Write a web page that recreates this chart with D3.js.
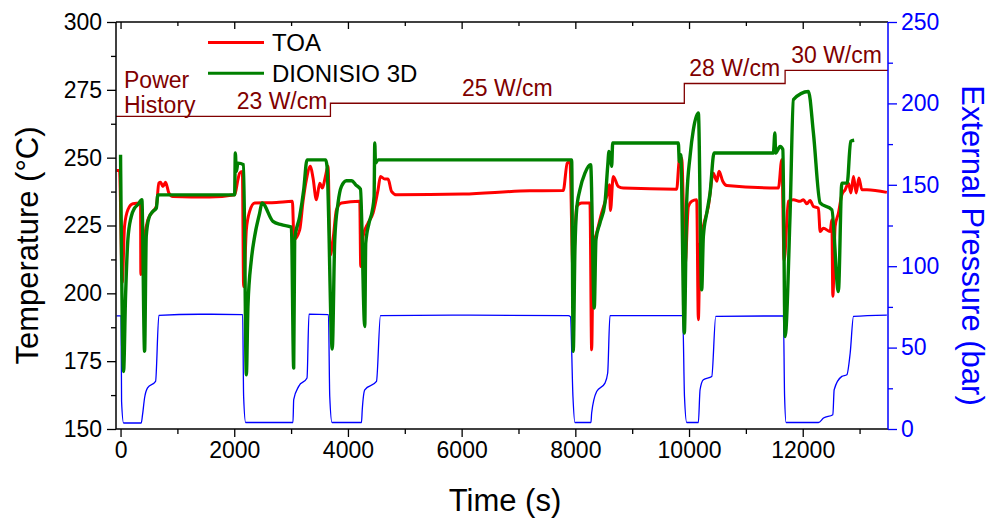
<!DOCTYPE html>
<html>
<head>
<meta charset="utf-8">
<script src="https://cdn.jsdelivr.net/npm/d3@7"></script>
<style>
  html, body { margin: 0; padding: 0; background: #fff; }
  svg { display: block; font-family: "Liberation Sans", Arial, sans-serif; }
</style>
</head>
<body>
<svg id="chart" width="989" height="521"></svg>
<script>
// ---------------- DATA ----------------
const toaTime = [-70,-18,30,70,129,217,352,357,423,481,569,629,674,704,745,792,850,921,1567,2007,2065,2095,2143,2165,2213,2271,2359,2741,3023,3051,3151,3210,3269,3340,3386,3445,3504,3551,3604,3650,3688,3738,3798,3886,4208,4225,4266,4354,4442,4530,4572,4648,4706,4766,4854,6026,7201,7787,7857,7905,7958,8023,8111,8257,8287,8315,8375,8463,8551,8600,8618,8667,8755,8843,9783,9829,9871,9930,9988,10047,10135,10164,10194,10252,10340,10428,10488,10528,10593,10664,11572,11632,11673,11748,11836,11954,12012,12072,12130,12188,12276,12306,12364,12482,12512,12530,12570,12628,12688,12746,12805,12847,12893,12940,12988,13040,13129,13480];
const toaTemp = [245.3,245.3,204,224.7,230.8,233,233.3,206.9,221,227.1,230.2,232,240.6,240.9,239.4,240.9,237,235.7,235.5,236.3,241.9,244.3,244.9,202.5,223.4,230.2,233.3,233.5,233.9,219.8,223.4,233.9,241.9,246.8,242.5,234.5,240.6,238.8,243.1,246.8,214,219.8,230.8,233.3,233.9,209.9,221,225.9,229.6,238.2,243.1,242.1,242.1,237.6,236.3,236.6,237.8,237.9,248,248.6,208.6,232,233.3,233.3,179.2,217.3,222.2,229.6,235.7,240,230.5,243.1,239.4,238.8,238.4,249.2,249.9,210,232,233.9,234.5,190.3,217.3,224.7,232,244.3,241.3,245,241.3,239.7,238.8,249.2,212,233.9,234.5,233.9,234.5,233,234.2,232,231.4,222.8,224,222.8,227.1,198.9,224.7,229.6,236.3,238.2,240.6,237,243.1,237,242.5,238.2,238.2,237.2];

const dioTime = [0,53,88,129,188,246,305,375,423,452,498,569,629,657,2007,2019,2037,2065,2165,2213,2241,2301,2359,2447,2488,2681,2829,3005,3046,3063,3151,3222,3280,3609,3632,3724,3768,3826,3886,3974,4062,4150,4220,4296,4313,4371,4431,4460,4472,4484,4530,7935,7963,7993,8023,8081,8169,8269,8333,8363,8433,8521,8569,8592,8621,8639,8657,9812,9829,9854,9917,9960,10018,10076,10164,10223,10252,10312,10370,10440,11484,11510,11523,11602,11650,11690,11778,11836,12100,12188,12306,12512,12627,12688,12782,12843,12905];
const dioTemp = [251.1,171.2,198.9,219.8,228.3,231.4,232.7,234.5,178.6,221,227.7,230.2,231.4,236.3,236.3,251.7,244.9,248,247.4,170,195.2,212.4,221,229.6,233.3,226.5,225.3,224.4,172.5,219.8,228.3,238.2,249.2,249.2,246.8,179.5,219.8,233.3,239.4,241.5,241.5,239.7,238.4,187.8,218.5,225.9,230.8,235.7,255.4,248,249.2,249.2,178.6,216.1,230.8,238.2,244.3,247.4,194.6,219.8,225.9,233.3,246.8,252.3,249.9,246.8,255.4,255.4,248.6,251.1,185.4,234.5,250.5,260.3,266.5,201.3,221,229.6,237,251.7,251.7,259.1,251.7,254.1,253,184.1,229.6,271.4,274.4,259.1,233.3,230.8,200.7,240.6,240.6,256,256.4];

const presTime = [-70,9,18,53,364,387,423,475,616,674,1391,2148,2165,2201,3033,3046,3134,3280,3315,3657,3680,3720,4238,4252,4296,4502,4572,6144,7875,7914,7958,7993,8275,8287,8375,8521,8569,8609,9889,9920,9960,10164,10194,10252,10400,10470,11660,11681,11708,12277,12365,12530,12553,12688,12776,12835,12893,13480];
const presBar = [69.5,69.5,17,3.7,3.7,8.8,19.2,25.3,29.2,69.8,70.5,70.3,20,4,4,18,26.2,31.3,70.6,70.3,20,4,4,12,24.1,29.2,69.6,70,69.6,69,20,4,4,9.8,23,28.2,34.4,69.6,69.6,20,4,4,24.1,30.3,32.3,69.2,69.5,20,4,4,6.7,8.8,24.1,32.3,33.3,46.7,69.2,70];

const powerStart = [-80, 3692, 9917, 11690];
const powerEnd = [3692, 9917, 11690, 13500];
const powerLevel = [23, 25, 28, 30];
const powerLabel = ["23 W/cm", "25 W/cm", "28 W/cm", "30 W/cm"];

const seriesNames = ["TOA", "DIONISIO 3D"];
const timeMajor = [0, 2000, 4000, 6000, 8000, 10000, 12000];
const timeMinor = [1000, 3000, 5000, 7000, 9000, 11000, 13000];
const tempMajor = [150, 175, 200, 225, 250, 275, 300];
const tempMinor = [162.5, 187.5, 212.5, 237.5, 262.5, 287.5];
const presMajor = [0, 50, 100, 150, 200, 250];
const presMinor = [25, 75, 125, 175, 225];

// ---------------- LAYOUT ----------------
const L = 116, R = 888, T = 22, B = 429;
const svg = d3.select("#chart");
const x = d3.scaleLinear().domain([-80, 13500]).range([L, R]);
const yT = d3.scaleLinear().domain([150, 300]).range([B, T]);
const yP = d3.scaleLinear().domain([0, 250]).range([B, T]);
const powerToTemp = d3.scaleLinear().domain([23, 30]).range([265.2, 282.2]);
const yPow = v => yT(powerToTemp(v));

const RED = "#ff0000", GREEN = "#008000", BLUE = "#0000ff", DRED = "#800000";

svg.append("defs").append("clipPath").attr("id", "clip")
  .append("rect").attr("x", L).attr("y", T).attr("width", R - L).attr("height", B - T);

const plot = svg.append("g").attr("clip-path", "url(#clip)");

// power history step line
const powPts = powerStart.map((s, i) => [s, powerLevel[i]]);
powPts.push([powerEnd[powerEnd.length - 1], powerLevel[powerLevel.length - 1]]);
plot.append("path")
  .attr("d", d3.line().curve(d3.curveStepAfter).x(d => x(d[0])).y(d => yPow(d[1]))(powPts))
  .attr("fill", "none").attr("stroke", DRED).attr("stroke-width", 1.3);

// pressure
plot.append("path")
  .attr("d", d3.line().curve(d3.curveMonotoneX).x((d, i) => x(presTime[i])).y(d => yP(d))(presBar))
  .attr("fill", "none").attr("stroke", BLUE).attr("stroke-width", 1.3).attr("stroke-linejoin", "round");

// TOA
plot.append("path")
  .attr("d", d3.line().curve(d3.curveMonotoneX).x((d, i) => x(toaTime[i])).y(d => yT(d))(toaTemp))
  .attr("fill", "none").attr("stroke", RED).attr("stroke-width", 3).attr("stroke-linejoin", "round");

// DIONISIO
plot.append("path")
  .attr("d", d3.line().curve(d3.curveMonotoneX).x((d, i) => x(dioTime[i])).y(d => yT(d))(dioTemp))
  .attr("fill", "none").attr("stroke", GREEN).attr("stroke-width", 3.4).attr("stroke-linejoin", "round");

// ---------------- AXES ----------------
const tickFont = 23;
function styleAxis(g, color) {
  g.select(".domain").remove();
  g.selectAll("line").attr("stroke", color).attr("stroke-width", 1.3);
  g.selectAll("text").attr("fill", color).style("font-size", tickFont + "px")
    .style("font-family", "'Liberation Sans', Arial, sans-serif");
}

// bottom
svg.append("g").attr("transform", `translate(0,${B})`)
  .call(d3.axisBottom(x).tickValues(timeMajor).tickSize(8).tickPadding(5).tickFormat(d3.format("d")))
  .call(g => styleAxis(g, "#000"));
svg.append("g").attr("transform", `translate(0,${B})`)
  .call(d3.axisBottom(x).tickValues(timeMinor).tickSize(5).tickFormat(""))
  .call(g => styleAxis(g, "#000"));
// top (inward)
svg.append("g").attr("transform", `translate(0,${T})`)
  .call(d3.axisBottom(x).tickValues(timeMajor).tickSize(7).tickFormat(""))
  .call(g => styleAxis(g, "#000"));
svg.append("g").attr("transform", `translate(0,${T})`)
  .call(d3.axisBottom(x).tickValues(timeMinor).tickSize(4).tickFormat(""))
  .call(g => styleAxis(g, "#000"));
// left
svg.append("g").attr("transform", `translate(${L},0)`)
  .call(d3.axisLeft(yT).tickValues(tempMajor).tickSize(9).tickPadding(5))
  .call(g => styleAxis(g, "#000"));
svg.append("g").attr("transform", `translate(${L},0)`)
  .call(d3.axisLeft(yT).tickValues(tempMinor).tickSize(5).tickFormat(""))
  .call(g => styleAxis(g, "#000"));
// right
svg.append("g").attr("transform", `translate(${R},0)`)
  .call(d3.axisRight(yP).tickValues(presMajor).tickSize(9).tickPadding(4))
  .call(g => styleAxis(g, BLUE));
svg.append("g").attr("transform", `translate(${R},0)`)
  .call(d3.axisRight(yP).tickValues(presMinor).tickSize(5).tickFormat(""))
  .call(g => styleAxis(g, BLUE));

// frame
svg.append("line").attr("x1", L).attr("x2", R).attr("y1", T).attr("y2", T).attr("stroke", "#000").attr("stroke-width", 1.5);
svg.append("line").attr("x1", L).attr("x2", R).attr("y1", B).attr("y2", B).attr("stroke", "#000").attr("stroke-width", 1.5);
svg.append("line").attr("x1", L).attr("x2", L).attr("y1", T).attr("y2", B).attr("stroke", "#000").attr("stroke-width", 1.5);
svg.append("line").attr("x1", R).attr("x2", R).attr("y1", T).attr("y2", B).attr("stroke", BLUE).attr("stroke-width", 1.5);

// axis titles
svg.append("text").attr("x", (L + R) / 2 + 3).attr("y", 511).attr("text-anchor", "middle")
  .style("font-size", "31px").attr("fill", "#000").text("Time (s)");
svg.append("text").attr("transform", `translate(38,${(T + B) / 2 + 20}) rotate(-90)`).attr("text-anchor", "middle")
  .style("font-size", "31px").attr("fill", "#000").text("Temperature (\u00B0C)");
svg.append("text").attr("transform", `translate(962,${(T + B) / 2 + 20}) rotate(90)`).attr("text-anchor", "middle")
  .style("font-size", "31px").attr("fill", BLUE).text("External Pressure (bar)");

// power labels
svg.append("text").attr("x", 124).attr("y", 87.5).style("font-size", "23px").attr("fill", DRED).text("Power");
svg.append("text").attr("x", 124).attr("y", 113).style("font-size", "23px").attr("fill", DRED).text("History");
powerLabel.forEach((lab, i) => {
  const t = svg.append("text").style("font-size", "23px").attr("fill", DRED)
    .attr("y", yPow(powerLevel[i]) - 7).text(lab);
  if (i === 0) t.attr("x", x(powerEnd[i]) - 3).attr("text-anchor", "end");
  else t.attr("x", (x(powerStart[i]) + x(powerEnd[i])) / 2).attr("text-anchor", "middle");
});

// legend
const legColors = [RED, GREEN];
const legY = [42.5, 73.3];
seriesNames.forEach((n, i) => {
  svg.append("line").attr("x1", 208).attr("x2", 264).attr("y1", legY[i]).attr("y2", legY[i])
    .attr("stroke", legColors[i]).attr("stroke-width", 3);
  svg.append("text").attr("x", 272).attr("y", legY[i] + 8.8).style("font-size", "24px").attr("fill", "#000").text(n);
});
</script>
</body>
</html>
